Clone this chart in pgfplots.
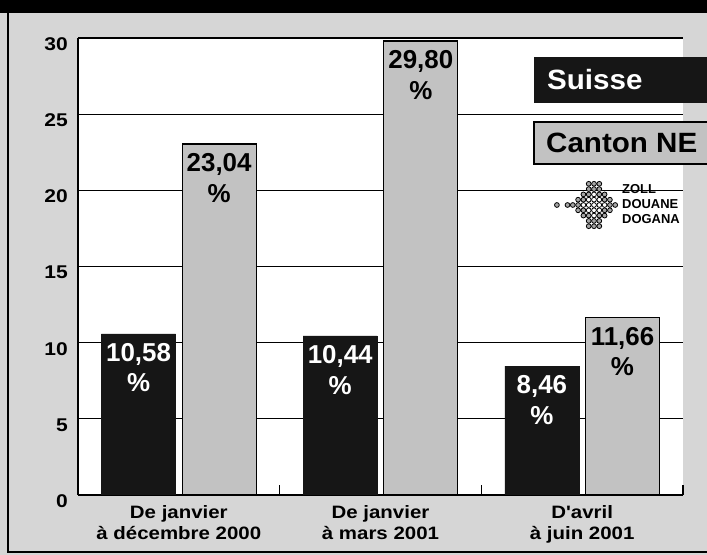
\documentclass[border=0pt]{standalone}
\usepackage{pgfplots}
\pgfplotsset{compat=1.18}
\usepackage{fontspec}
\setmainfont{Liberation Sans}
\newfontfamily\widefont[FakeStretch=1.14]{Liberation Sans}
\newfontfamily\legfont[FakeStretch=1.06]{Liberation Sans}
\definecolor{bg}{RGB}{214,214,214}
\definecolor{bargray}{RGB}{194,194,194}
\definecolor{barblack}{RGB}{22,22,22}

\begin{document}
\begin{tikzpicture}[x=1bp,y=1bp]
\path[use as bounding box] (0,0) rectangle (707,555);
\fill[bg] (0,0) rectangle (707,555);
\fill[black] (0,542) rectangle (707,555);
\draw[black, line width=2.6bp] (8,556) -- (8,3) -- (708,3);
\begin{axis}[
  at={(78bp,60bp)}, anchor=south west,
  scale only axis, width=605bp, height=457bp,
  xmin=-0.5, xmax=2.5, ymin=0, ymax=30,
  axis background/.style={fill=white},
  axis x line*=bottom, axis y line*=left,
  axis line style={black, line width=1.4bp},
  /pgf/number format/assume math mode=true,
  ytick={0,5,10,15,20,25,30},
  ymajorgrids, grid style={black, line width=1.1bp},
  major y tick style={draw=none},
  yticklabel style={font=\widefont\bfseries\fontsize{18.5}{18.5}\selectfont, inner sep=0pt, anchor=east, xshift=-10bp, yshift=-6bp},
  xtick={0,1,2},
  xticklabels={{De janvier\\à décembre 2000},{De janvier\\à mars 2001},{D'avril\\à juin 2001}},
  major x tick style={draw=none},
  minor xtick={0.5,1.5,2.5},
  minor x tick style={black, line width=1.4bp},
  minor tick length=10bp,
  tick align=inside,
  xticklabel style={font=\widefont\bfseries\fontsize{18}{21}\selectfont, align=center, inner sep=0pt, anchor=north, yshift=-10bp},
  point meta=explicit symbolic,
  nodes near coords={\pgfplotspointmeta\\\%},
  nodes near coords align=below,
]
\addplot[ybar, bar width=0.367, bar shift=-0.2, fill=barblack, draw=barblack,
  every node near coord/.append style={text=white, align=center, inner sep=0pt, xshift=-40.3bp, yshift=-9bp, font=\bfseries\fontsize{26}{31}\selectfont}]
  table[x=x, y=y, meta=lab] {
x y lab
0 10.58 10,58
1 10.44 10,44
2 8.46 8,46
};
\addplot[ybar, bar width=0.367, bar shift=0.2, fill=bargray, draw=black, line width=1.3bp,
  every node near coord/.append style={text=black, align=center, inner sep=0pt, xshift=40.3bp, yshift=-9bp, font=\bfseries\fontsize{26}{31}\selectfont}]
  table[x=x, y=y, meta=lab] {
x y lab
0 23.04 23,04
1 29.80 29,80
2 11.66 11,66
};
\end{axis}
% legend
\fill[barblack] (534,452) rectangle (708,498);
\node[anchor=west, text=white, inner sep=0pt, font=\legfont\bfseries\fontsize{28}{28}\selectfont] at (547,475) {Suisse};
\fill[bargray] (534,391) rectangle (708,433);
\draw[black, line width=1.3bp] (708,433) -- (534,433) -- (534,391) -- (708,391);
\node[anchor=west, text=black, inner sep=0pt, font=\legfont\bfseries\fontsize{28}{28}\selectfont] at (546,412) {Canton NE};
% logo
\foreach \i/\j in {-1/4,0/4,1/4,-1/3,0/3,1/3,-2/2,-1/2,0/2,1/2,2/2,-3/1,-2/1,-1/1,0/1,1/1,2/1,3/1,
  -7/0,-5/0,-4/0,-3/0,-2/0,-1/0,0/0,1/0,2/0,3/0,4/0,
  -3/-1,-2/-1,-1/-1,0/-1,1/-1,2/-1,3/-1,-2/-2,-1/-2,0/-2,1/-2,2/-2,-1/-3,0/-3,1/-3,-1/-4,0/-4,1/-4}{
  \pgfmathtruncatemacro{\d}{abs(\i)+abs(\j)}
  \ifnum\d<3
    \filldraw[fill=white, draw=black, line width=0.8bp] (594+5.3*\i,350+5.3*\j) circle (2.4);
  \else
    \filldraw[fill=gray!70, draw=black, line width=0.8bp] (594+5.3*\i,350+5.3*\j) circle (2.4);
  \fi
}
\node[anchor=west, align=left, inner sep=0pt, font=\bfseries\fontsize{13}{15}\selectfont] at (622,351) {ZOLL\\DOUANE\\DOGANA};
\end{tikzpicture}
\end{document}
